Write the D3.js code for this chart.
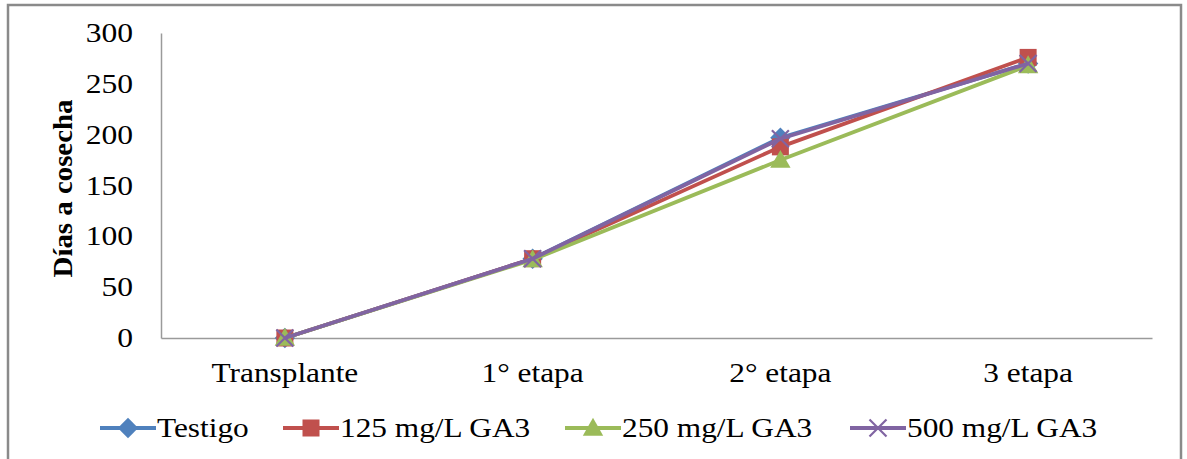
<!DOCTYPE html>
<html><head><meta charset="utf-8">
<script src="https://cdn.jsdelivr.net/npm/d3@7"></script>
<style>body{margin:0;background:#fff}svg{display:block}</style>
</head><body>
<svg id="c" width="1187" height="459"></svg>
<script>
const categories = ["Transplante", "1° etapa", "2° etapa", "3 etapa"];
const seriesNames = ["Testigo", "125 mg/L GA3", "250 mg/L GA3", "500 mg/L GA3"];
const testigo = [0, 78, 197, 270];
const ga125 = [0, 78, 188, 276];
const ga250 = [0, 77, 175, 268];
const ga500 = [0, 78, 196, 270];
const yTicks = [0, 50, 100, 150, 200, 250, 300];
const colors = ["#4F81BD", "#C0504D", "#9BBB59", "#8064A2"];
const shapes = ["diamond", "square", "triangle", "x"];

const series = [testigo, ga125, ga250, ga500].map((v, i) => ({name: seriesNames[i], values: v, color: colors[i], shape: shapes[i]}));

const svg = d3.select("#c");
const font = "'Liberation Serif','Times New Roman',serif";
svg.append("rect").attr("x", 8).attr("y", 5).attr("width", 1173).attr("height", 470)
  .attr("fill", "#fff").attr("stroke", "#8a8a8a").attr("stroke-width", 2.5);

function stretch(sel, k) {
  sel.each(function () {
    const w = this.getComputedTextLength();
    d3.select(this).attr("textLength", w * k).attr("lengthAdjust", "spacingAndGlyphs");
  });
}

const L = 161, R = 1152, T = 33, B = 338;
const x = d3.scaleBand().domain(categories).range([L, R]);
const y = d3.scaleLinear().domain([0, 300]).range([B, T]);
const cx = c => x(c) + x.bandwidth() / 2;

// axes
const ya = svg.append("g").attr("transform", `translate(${L},0)`)
  .call(d3.axisLeft(y).tickValues(yTicks).tickSize(0).tickPadding(28));
ya.select(".domain").attr("stroke", "#9a9a9a").attr("stroke-width", 1.5);
ya.selectAll("text").attr("font-family", font).attr("font-size", 27).attr("fill", "#000");
stretch(ya.selectAll("text"), 1.17);

const xa = svg.append("g").attr("transform", `translate(0,${B})`)
  .call(d3.axisBottom(x).tickSize(0).tickPadding(25));
xa.select(".domain").attr("stroke", "#9a9a9a").attr("stroke-width", 1.5);
xa.selectAll("text").attr("font-family", font).attr("font-size", 27).attr("fill", "#000");
stretch(xa.selectAll("text"), 1.16);

const title = svg.append("text").attr("transform", `translate(72,${(T + B) / 2 + 3}) rotate(-90)`)
  .attr("text-anchor", "middle").attr("font-family", font).attr("font-size", 28)
  .attr("font-weight", "bold").text("Días a cosecha");
stretch(title, 1.03);

function marker(g, shape, color, px, py, s) {
  if (shape === "diamond") {
    g.append("path").attr("d", `M${px},${py - s * 0.6}L${px + s * 0.6},${py}L${px},${py + s * 0.6}L${px - s * 0.6},${py}Z`).attr("fill", color);
  } else if (shape === "square") {
    g.append("rect").attr("x", px - s / 2).attr("y", py - s / 2).attr("width", s).attr("height", s).attr("fill", color);
  } else if (shape === "triangle") {
    g.append("path").attr("d", `M${px},${py - s * 0.6}L${px + s * 0.6},${py + s * 0.45}L${px - s * 0.6},${py + s * 0.45}Z`).attr("fill", color);
  } else {
    const h = s * 0.5;
    g.append("path").attr("d", `M${px - h},${py - h}L${px + h},${py + h}M${px - h},${py + h}L${px + h},${py - h}`)
      .attr("stroke", color).attr("stroke-width", 2.2).attr("fill", "none");
  }
}

const line = d3.line().x((d, i) => cx(categories[i])).y(d => y(d));
series.forEach(s => {
  const g = svg.append("g");
  g.append("path").datum(s.values).attr("d", line).attr("fill", "none")
    .attr("stroke", s.color).attr("stroke-width", 3.8).attr("stroke-linejoin", "round");
  s.values.forEach((v, i) => marker(g, s.shape, s.color, cx(categories[i]), y(v), 17));
});

// legend
const legX = [100, 283, 565, 850];
const legY = 428;
series.forEach((s, i) => {
  const g = svg.append("g");
  g.append("line").attr("x1", legX[i]).attr("x2", legX[i] + 56).attr("y1", legY).attr("y2", legY)
    .attr("stroke", s.color).attr("stroke-width", 3.8);
  marker(g, s.shape, s.color, legX[i] + 28, legY, 17);
  const t = g.append("text").attr("x", legX[i] + 57).attr("y", legY).attr("dy", "0.35em")
    .attr("font-family", font).attr("font-size", 27).attr("fill", "#000").text(s.name);
  stretch(t, 1.16);
});
</script>
</body></html>
